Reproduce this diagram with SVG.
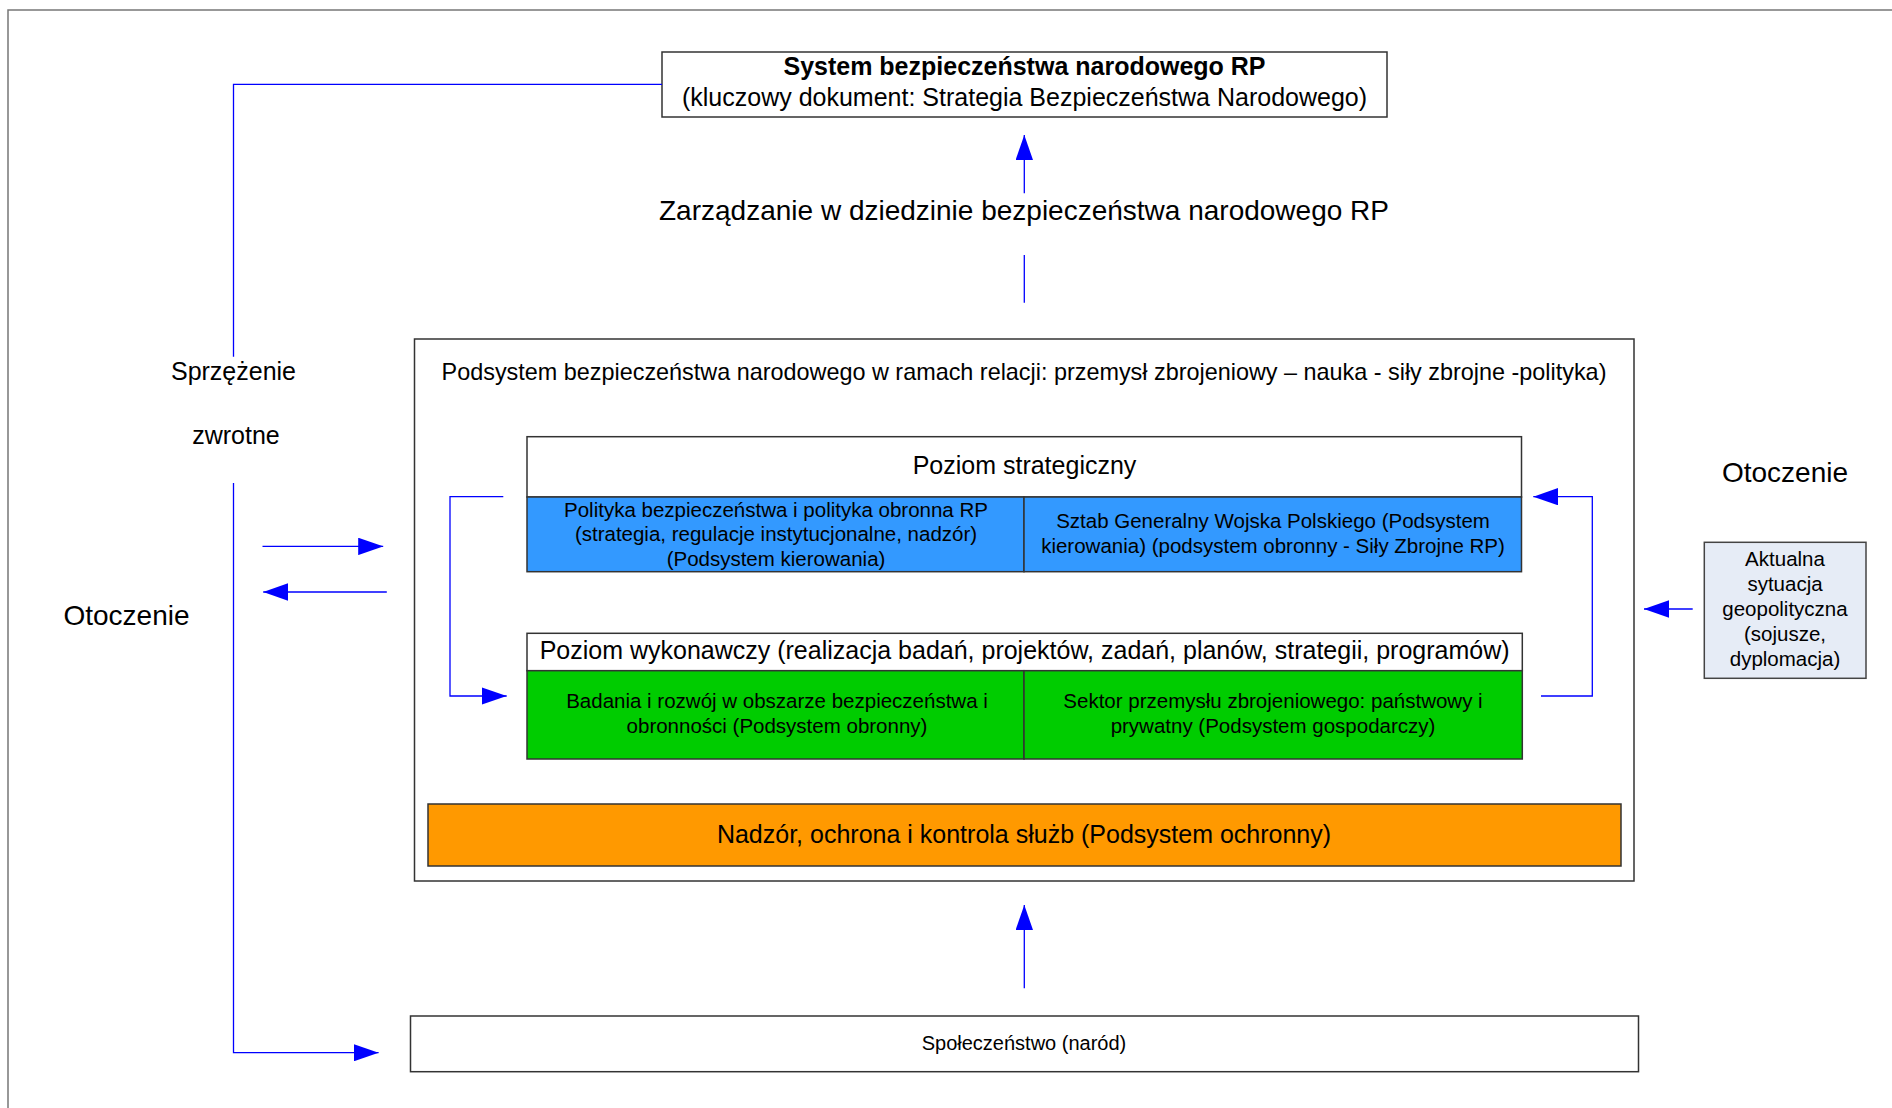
<svg xmlns="http://www.w3.org/2000/svg" width="1892" height="1108" viewBox="0 0 1892 1108">
  <style>
    text { font-family: "Liberation Sans", Arial, sans-serif; fill: #000; }
    .c { text-anchor: middle; }
    .box { fill: #fff; stroke: #333; stroke-width: 1.5; }
    .frame { fill: none; stroke: #777; stroke-width: 1.5; }
    .blue { fill: #3399FF; stroke: #333; stroke-width: 1.5; }
    .green { fill: #00CC00; stroke: #333; stroke-width: 1.5; }
    .orange { fill: #FF9900; stroke: #333; stroke-width: 1.5; }
    .env { fill: #E6ECF6; stroke: #444; stroke-width: 1.5; }
    .sep { stroke: #333; stroke-width: 1.2; }
    .link { fill: none; stroke: #0000FF; stroke-width: 1.3; }
    .t28 { font-size: 28px; }
    .t25 { font-size: 25px; }
    .t23 { font-size: 23.4px; }
    .t20 { font-size: 20.5px; }
    .t20s { font-size: 20px; }
  </style>
  <defs>
    <marker id="arrow" viewBox="0 0 25 17.4" refX="25" refY="8.7" markerWidth="25" markerHeight="17.4" markerUnits="userSpaceOnUse" orient="auto">
      <path d="M0,0 L25,8.7 L0,17.4 z" fill="#0000FF"/>
    </marker>
  </defs>

  <rect width="1892" height="1108" fill="#fff"/>

  <!-- outer frame (top and left edges) -->
  <path class="frame" d="M8,1108 V10 H1892"/>

  <!-- top: national security system -->
  <g id="system">
    <rect class="box" x="662" y="52" width="725" height="65"/>
    <text class="c t25" x="1024.5" y="75" font-weight="bold">System bezpieczeństwa narodowego RP</text>
    <text class="c t25" x="1024.5" y="105.5">(kluczowy dokument: Strategia Bezpieczeństwa Narodowego)</text>
  </g>

  <g id="management">
    <text class="c t28" x="1024" y="220">Zarządzanie w dziedzinie bezpieczeństwa narodowego RP</text>
  </g>

  <g id="feedback-label">
    <text class="c t25" x="233.5" y="380">Sprzężenie</text>
    <text class="c t25" x="236" y="444">zwrotne</text>
  </g>

  <g id="env-left">
    <text class="c t28" x="126.5" y="625">Otoczenie</text>
  </g>

  <g id="env-right">
    <text class="c t28" x="1785" y="481.5">Otoczenie</text>
  </g>

  <!-- subsystem container -->
  <g id="subsystem">
    <rect class="box" x="414.5" y="339" width="1219.5" height="542"/>
    <text class="c t23" x="1024" y="380">Podsystem bezpieczeństwa narodowego w ramach relacji: przemysł zbrojeniowy – nauka - siły zbrojne -polityka)</text>
  </g>

  <g id="strategic-level">
    <rect class="box" x="527" y="436.7" width="994.5" height="60.3"/>
    <text class="c t25" x="1024.5" y="474">Poziom strategiczny</text>
  </g>

  <g id="policy">
    <rect class="blue" x="527" y="497" width="497" height="74.7"/>
    <text class="c t20" x="776" y="516.5">Polityka bezpieczeństwa i polityka obronna RP</text>
    <text class="c t20" x="776" y="541">(strategia, regulacje instytucjonalne, nadzór)</text>
    <text class="c t20" x="776" y="565.5">(Podsystem kierowania)</text>
  </g>

  <g id="general-staff">
    <rect class="blue" x="1024" y="497" width="497.5" height="74.7"/>
    <text class="c t20" x="1273" y="528.3">Sztab Generalny Wojska Polskiego (Podsystem</text>
    <text class="c t20" x="1273" y="553.3">kierowania) (podsystem obronny - Siły Zbrojne RP)</text>
  </g>

  <g id="executive-level">
    <rect class="box" x="527" y="633.3" width="995.3" height="37.4"/>
    <text class="c t25" x="1024.6" y="659.3">Poziom wykonawczy (realizacja badań, projektów, zadań, planów, strategii, programów)</text>
  </g>

  <g id="research">
    <rect class="green" x="527" y="670.7" width="497" height="88.3"/>
    <text class="c t20" x="777" y="708.3">Badania i rozwój w obszarze bezpieczeństwa i</text>
    <text class="c t20" x="777" y="733.3">obronności (Podsystem obronny)</text>
  </g>

  <g id="industry">
    <rect class="green" x="1024" y="670.7" width="498.3" height="88.3"/>
    <text class="c t20" x="1273" y="708.3">Sektor przemysłu zbrojeniowego: państwowy i</text>
    <text class="c t20" x="1273" y="733.3">prywatny (Podsystem gospodarczy)</text>
  </g>

  <g id="supervision">
    <rect class="orange" x="428" y="804" width="1193" height="62"/>
    <text class="c t25" x="1024" y="842.7">Nadzór, ochrona i kontrola służb (Podsystem ochronny)</text>
  </g>

  <g id="society">
    <rect class="box" x="410.5" y="1016" width="1228" height="55.7"/>
    <text class="c t20s" x="1024" y="1050">Społeczeństwo (naród)</text>
  </g>

  <g id="geopolitics">
    <rect class="env" x="1704.3" y="542.3" width="161.7" height="136"/>
    <text class="c t20" x="1785" y="565.7">Aktualna</text>
    <text class="c t20" x="1785" y="590.7">sytuacja</text>
    <text class="c t20" x="1785" y="615.7">geopolityczna</text>
    <text class="c t20" x="1785" y="640.7">(sojusze,</text>
    <text class="c t20" x="1785" y="665.7">dyplomacja)</text>
  </g>

  <!-- connectors -->
  <g id="connectors">
    <path class="link" d="M662,84.3 H233.5 V356.7"/>
    <path class="link" d="M233.5,483 V1052.7 H378.6" marker-end="url(#arrow)"/>
    <path class="link" d="M262.5,546.4 H383.2" marker-end="url(#arrow)"/>
    <path class="link" d="M386.8,592 H263.2" marker-end="url(#arrow)"/>
    <path class="link" d="M1024.3,193.3 V135" marker-end="url(#arrow)"/>
    <path class="link" d="M1024.3,255 V302.7"/>
    <path class="link" d="M1024.3,988.3 V905" marker-end="url(#arrow)"/>
    <path class="link" d="M503.3,496.7 H450 V696 H506.7" marker-end="url(#arrow)"/>
    <path class="link" d="M1541,696 H1592.3 V496.7 H1533.3" marker-end="url(#arrow)"/>
    <path class="link" d="M1692.7,609 H1644" marker-end="url(#arrow)"/>
  </g>
</svg>
